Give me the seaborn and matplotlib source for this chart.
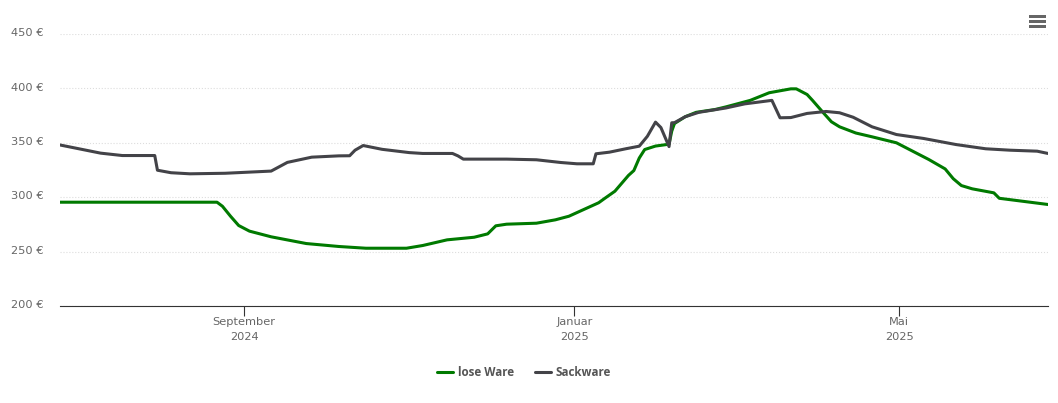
import pandas as pd
import matplotlib.pyplot as plt
import matplotlib.dates as mdates
from matplotlib.lines import Line2D
from matplotlib.patches import Rectangle
from matplotlib.transforms import ScaledTranslation
import seaborn as sns

# prices
lose_dates = ['2024-06-25', '2024-08-22', '2024-08-24', '2024-08-27', '2024-08-30', '2024-09-03',
              '2024-09-11', '2024-09-24', '2024-10-06', '2024-10-16', '2024-10-31', '2024-11-06',
              '2024-11-15', '2024-11-25', '2024-11-30', '2024-12-03', '2024-12-07', '2024-12-18',
              '2024-12-25', '2024-12-30', '2025-01-10', '2025-01-12', '2025-01-16', '2025-01-21', '2025-01-23',
              '2025-01-25', '2025-01-27', '2025-01-31', '2025-02-05', '2025-02-06', '2025-02-07',
              '2025-02-11', '2025-02-15', '2025-02-22', '2025-02-26', '2025-03-07', '2025-03-14',
              '2025-03-22', '2025-03-24', '2025-03-28', '2025-03-30', '2025-04-03', '2025-04-06', '2025-04-09',
              '2025-04-15', '2025-04-21', '2025-04-30', '2025-05-06', '2025-05-12', '2025-05-18', '2025-05-21',
              '2025-05-24', '2025-05-28', '2025-06-05', '2025-06-07', '2025-06-25']
lose_values = [295.4, 295.4, 291.7, 282.5, 274, 268.8,
               263.6, 257.4, 254.7, 253.1, 253.1, 255.6,
               260.8, 263.2, 266.3, 273.7, 275.2, 276.1,
               279.2, 282.5, 294.9, 298.5, 305.5, 320, 324.5,
               336, 343.8, 347, 348.7, 360.7, 367.7,
               374, 378, 380.6, 383, 389, 396,
               399.6, 399.6, 394.4, 389, 377.6, 369.3, 364.7,
               359, 355.5, 350, 342.3, 334.6, 326, 317,
               310.7, 307.7, 304, 299, 293.3]

sack_dates = ['2024-06-25', '2024-07-03', '2024-07-10', '2024-07-18', '2024-07-30', '2024-07-31',
              '2024-08-05', '2024-08-12', '2024-08-25', '2024-09-11', '2024-09-17', '2024-09-26',
              '2024-10-06', '2024-10-10', '2024-10-12', '2024-10-15', '2024-10-22', '2024-11-01',
              '2024-11-06', '2024-11-17', '2024-11-19', '2024-11-21', '2024-12-07', '2024-12-18',
              '2024-12-27', '2025-01-02', '2025-01-08', '2025-01-09', '2025-01-14', '2025-01-20', '2025-01-25',
              '2025-01-28', '2025-01-31', '2025-02-02', '2025-02-05', '2025-02-06', '2025-02-07',
              '2025-02-11', '2025-02-16', '2025-02-26', '2025-03-05', '2025-03-15', '2025-03-18',
              '2025-03-22', '2025-03-28', '2025-04-04', '2025-04-09', '2025-04-14', '2025-04-21',
              '2025-04-30', '2025-05-10', '2025-05-22', '2025-06-02', '2025-06-11', '2025-06-21', '2025-06-25']
sack_values = [348, 344, 340.5, 338.3, 338.3, 324.8,
               322.5, 321.5, 322, 324, 332, 336.8,
               338, 338.1, 343.2, 347.5, 344, 341,
               340.2, 340.2, 338, 335, 335, 334.4,
               331.9, 330.7, 330.7, 339.9, 341.4, 344.5, 346.9,
               356, 369, 364, 346.5, 368.4, 368.5,
               374, 378, 382, 385.8, 389, 373,
               373.2, 377, 378.8, 377.6, 373.5, 364.7,
               357.6, 354, 348.4, 344.5, 343.2, 342.3, 340.2]

y_ticks = [200, 250, 300, 350, 400, 450]
x_ticks = ['2024-09-01', '2025-01-01', '2025-05-01']
x_labels = ['September\n2024', 'Januar\n2025', 'Mai\n2025']
series_names = ['lose Ware', 'Sackware']
series_colors = ['#007a00', '#434348']

df = pd.concat([
    pd.DataFrame({'datum': pd.to_datetime(lose_dates), 'preis': lose_values, 'art': series_names[0]}),
    pd.DataFrame({'datum': pd.to_datetime(sack_dates), 'preis': sack_values, 'art': series_names[1]}),
])

sns.set_theme(style='white')
plt.rcParams['font.family'] = ['DejaVu Sans']

W, H = 1058, 403
fig = plt.figure(figsize=(W / 100, H / 100), dpi=100)
ax = fig.add_axes([60 / W, 1 - 306 / H, 988 / W, 272 / H])

sns.lineplot(data=df, x='datum', y='preis', hue='art', hue_order=series_names,
             palette=series_colors, linewidth=2.2, legend=False, ax=ax,
             solid_joinstyle='round')

ax.set_xlim(pd.Timestamp('2024-06-25'), pd.Timestamp('2025-06-25'))
ax.set_ylim(200, 450)
ax.set_xlabel('')
ax.set_ylabel('')

ax.set_yticks(y_ticks)
ax.set_yticklabels([f'{v} €' for v in y_ticks], color='#666666', fontsize=8.2, va='center')
ax.tick_params(axis='y', length=0, pad=11.5)
for lbl in ax.get_yticklabels():
    # labels sit a touch above their grid line
    lbl.set_transform(lbl.get_transform() + ScaledTranslation(0, 0.6 / 72, fig.dpi_scale_trans))

ax.set_xticks(mdates.date2num(pd.to_datetime(x_ticks)))
ax.set_xticklabels(x_labels, color='#666666', fontsize=8.2, linespacing=1.56)
ax.tick_params(axis='x', length=7.5, width=0.8, color='#333333', pad=0.5, bottom=True)

ax.grid(axis='y', color='#dddddd', linestyle=':', linewidth=0.8)
ax.grid(axis='x', visible=False)
ax.set_axisbelow(True)
for side in ['top', 'left', 'right']:
    ax.spines[side].set_visible(False)
ax.spines['bottom'].set_color('#333333')
ax.spines['bottom'].set_linewidth(0.8)

handles = [Line2D([0], [0], color=c, linewidth=2.2) for c in series_colors]
fig.legend(handles, series_names, loc='center', bbox_to_anchor=(524 / W, 1 - 373 / H), ncol=2, frameon=False,
           prop={'family': 'Open Sans', 'size': 8.4, 'weight': 'bold'}, labelcolor='#555555',
           handlelength=1.38, handletextpad=0.42, columnspacing=1.78)

# menu icon, top right
for top in [15, 20, 25]:
    fig.add_artist(Rectangle((1029 / W, 1 - (top + 2.8) / H), 17 / W, 2.8 / H, transform=fig.transFigure,
                             facecolor='#666666', edgecolor='none'))

fig.savefig('out.png', dpi=100)
